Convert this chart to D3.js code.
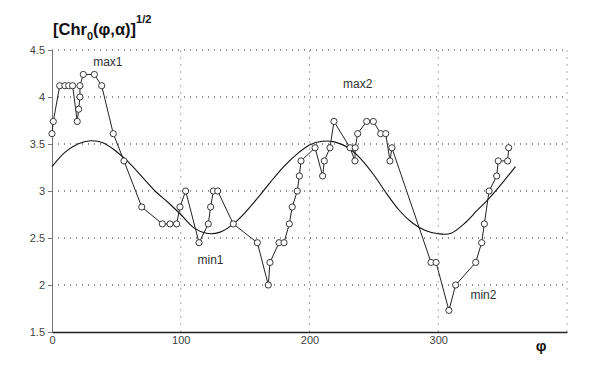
<!DOCTYPE html>
<html>
<head>
<meta charset="utf-8">
<script src="https://cdn.jsdelivr.net/npm/d3@7"></script>
<style>
  body { margin: 0; background: #fff; }
  svg { font-family: "Liberation Sans", Arial, sans-serif; }
</style>
</head>
<body>
<div id="chart-area"></div>
<script>
// measured points
const phi = [0, 1, 6, 10, 13, 16, 19.6, 20.7, 21.7, 21.7, 24.3, 32.9, 38.6, 47.6, 55.9,
  69.7, 85.7, 91.7, 96.8, 99.4, 103.8, 114.2, 121.4, 123.2, 125.3, 128.7, 140.8, 159.5,
  168, 169.3, 176.3, 180.2, 184.3, 186.6, 190.5, 192.1, 193.4, 204.3, 210.2, 211.5, 215.9,
  219, 231.5, 235.3, 235.5, 237.4, 244.4, 249.6, 255.3, 259.2, 262.5, 264, 294.4, 298.3,
  308.3, 313.5, 329.1, 333.7, 335.8, 339.5, 345.4, 346.6, 353.9, 354.7];
const chr = [3.61, 3.74, 4.12, 4.12, 4.12, 4.12, 3.74, 3.87, 4.0, 4.12, 4.24, 4.24, 4.12, 3.61, 3.32,
  2.83, 2.65, 2.65, 2.65, 2.83, 3.0, 2.45, 2.65, 2.83, 3.0, 3.0, 2.65, 2.45,
  2.0, 2.24, 2.45, 2.45, 2.65, 2.83, 3.0, 3.16, 3.32, 3.46, 3.16, 3.32, 3.46,
  3.74, 3.46, 3.32, 3.46, 3.61, 3.74, 3.74, 3.61, 3.61, 3.32, 3.46, 2.24, 2.24,
  1.73, 2.0, 2.24, 2.45, 2.65, 3.0, 3.16, 3.32, 3.32, 3.46];

// smooth fitted curve
const fitPhi = [0, 10, 20, 30, 40, 50, 60, 70, 80, 90, 100, 110, 120, 130, 140, 150, 160, 170, 180,
  190, 200, 210, 220, 230, 240, 250, 260, 270, 280, 290, 300, 310, 320, 330, 340, 350, 360];
const fitVal = [3.26, 3.41, 3.50, 3.535, 3.51, 3.42, 3.30, 3.15, 3.00, 2.88, 2.75, 2.61, 2.55, 2.56,
  2.64, 2.77, 2.93, 3.10, 3.26, 3.39, 3.49, 3.53, 3.52, 3.46, 3.34, 3.17, 2.97, 2.79, 2.66, 2.58,
  2.545, 2.55, 2.65, 2.79, 2.93, 3.09, 3.26];

const yTicks = [1.5, 2, 2.5, 3, 3.5, 4, 4.5];
const xTicks = [0, 100, 200, 300];
const labels = [
  {text: "max1", x: 32, y: 4.33},
  {text: "max2", x: 226, y: 4.1},
  {text: "min1", x: 113, y: 2.22},
  {text: "min2", x: 325, y: 1.85}
];

const W = 597, H = 370;
const margin = {left: 52, right: 30, top: 50, bottom: 38};

const x = d3.scaleLinear().domain([0, 400]).range([margin.left, W - margin.right]);
const y = d3.scaleLinear().domain([1.5, 4.5]).range([H - margin.bottom, margin.top]);

const svg = d3.select("#chart-area").append("svg")
  .attr("width", W)
  .attr("height", H);

// vertical grid (light gray dashes)
svg.append("g")
  .selectAll("line")
  .data([100, 200, 300, 400])
  .join("line")
  .attr("x1", d => x(d)).attr("x2", d => x(d))
  .attr("y1", y(4.5)).attr("y2", y(1.5) + 4)
  .attr("stroke", "#aaa")
  .attr("stroke-dasharray", "2,5");

// horizontal grid (black dots)
svg.append("g")
  .selectAll("line")
  .data(yTicks.slice(1))
  .join("line")
  .attr("x1", x(0)).attr("x2", x(400))
  .attr("y1", d => y(d)).attr("y2", d => y(d))
  .attr("stroke", "#222")
  .attr("stroke-dasharray", "1,5");

// axes
const yAxis = svg.append("g")
  .attr("transform", "translate(" + x(0) + ",0)")
  .call(d3.axisLeft(y).tickValues(yTicks).tickSize(4).tickPadding(3)
    .tickFormat(d3.format("")));
yAxis.select(".domain").attr("stroke", "#777");
yAxis.selectAll(".tick line").attr("stroke", "#777");
yAxis.selectAll("text").attr("font-size", 11).attr("fill", "#444");

const xAxis = svg.append("g")
  .attr("transform", "translate(0," + y(1.5) + ")")
  .call(d3.axisBottom(x).tickValues(xTicks).tickSize(0).tickPadding(4));
xAxis.select(".domain").attr("stroke", "#222").attr("stroke-width", 1.3);
xAxis.selectAll("text").attr("font-size", 11).attr("fill", "#444");

// fitted curve
svg.append("path")
  .attr("fill", "none")
  .attr("stroke", "#111")
  .attr("stroke-width", 1.1)
  .attr("d", d3.line().curve(d3.curveCardinal)
    .x((d, i) => x(fitPhi[i]))
    .y(d => y(d))(fitVal));

// measured line
const pts = phi.map((p, i) => ({p: p, v: chr[i]}));
svg.append("path")
  .attr("fill", "none")
  .attr("stroke", "#222")
  .attr("stroke-width", 1)
  .attr("d", d3.line().x(d => x(d.p)).y(d => y(d.v))(pts));

svg.append("g")
  .selectAll("circle")
  .data(pts)
  .join("circle")
  .attr("cx", d => x(d.p))
  .attr("cy", d => y(d.v))
  .attr("r", 3.1)
  .attr("fill", "#fff")
  .attr("stroke", "#222")
  .attr("stroke-width", 0.9);

// annotations
svg.append("g")
  .selectAll("text")
  .data(labels)
  .join("text")
  .attr("x", d => x(d.x))
  .attr("y", d => y(d.y))
  .attr("font-size", 12)
  .attr("fill", "#333")
  .text(d => d.text);

// title
const title = svg.append("text")
  .attr("x", 53)
  .attr("y", 35)
  .attr("font-size", 16.5)
  .attr("font-weight", "bold")
  .attr("fill", "#111");
title.append("tspan").text("[Chr");
title.append("tspan").attr("font-size", 11).attr("dy", 5).text("0");
title.append("tspan").attr("dy", -5).text("(φ,α)]");
title.append("tspan").attr("font-size", 11).attr("dy", -12).text("1/2");

// x axis name
svg.append("text")
  .attr("x", 541)
  .attr("y", 351)
  .attr("text-anchor", "middle")
  .attr("font-size", 15)
  .attr("font-weight", "bold")
  .attr("fill", "#111")
  .text("φ");
</script>
</body>
</html>
